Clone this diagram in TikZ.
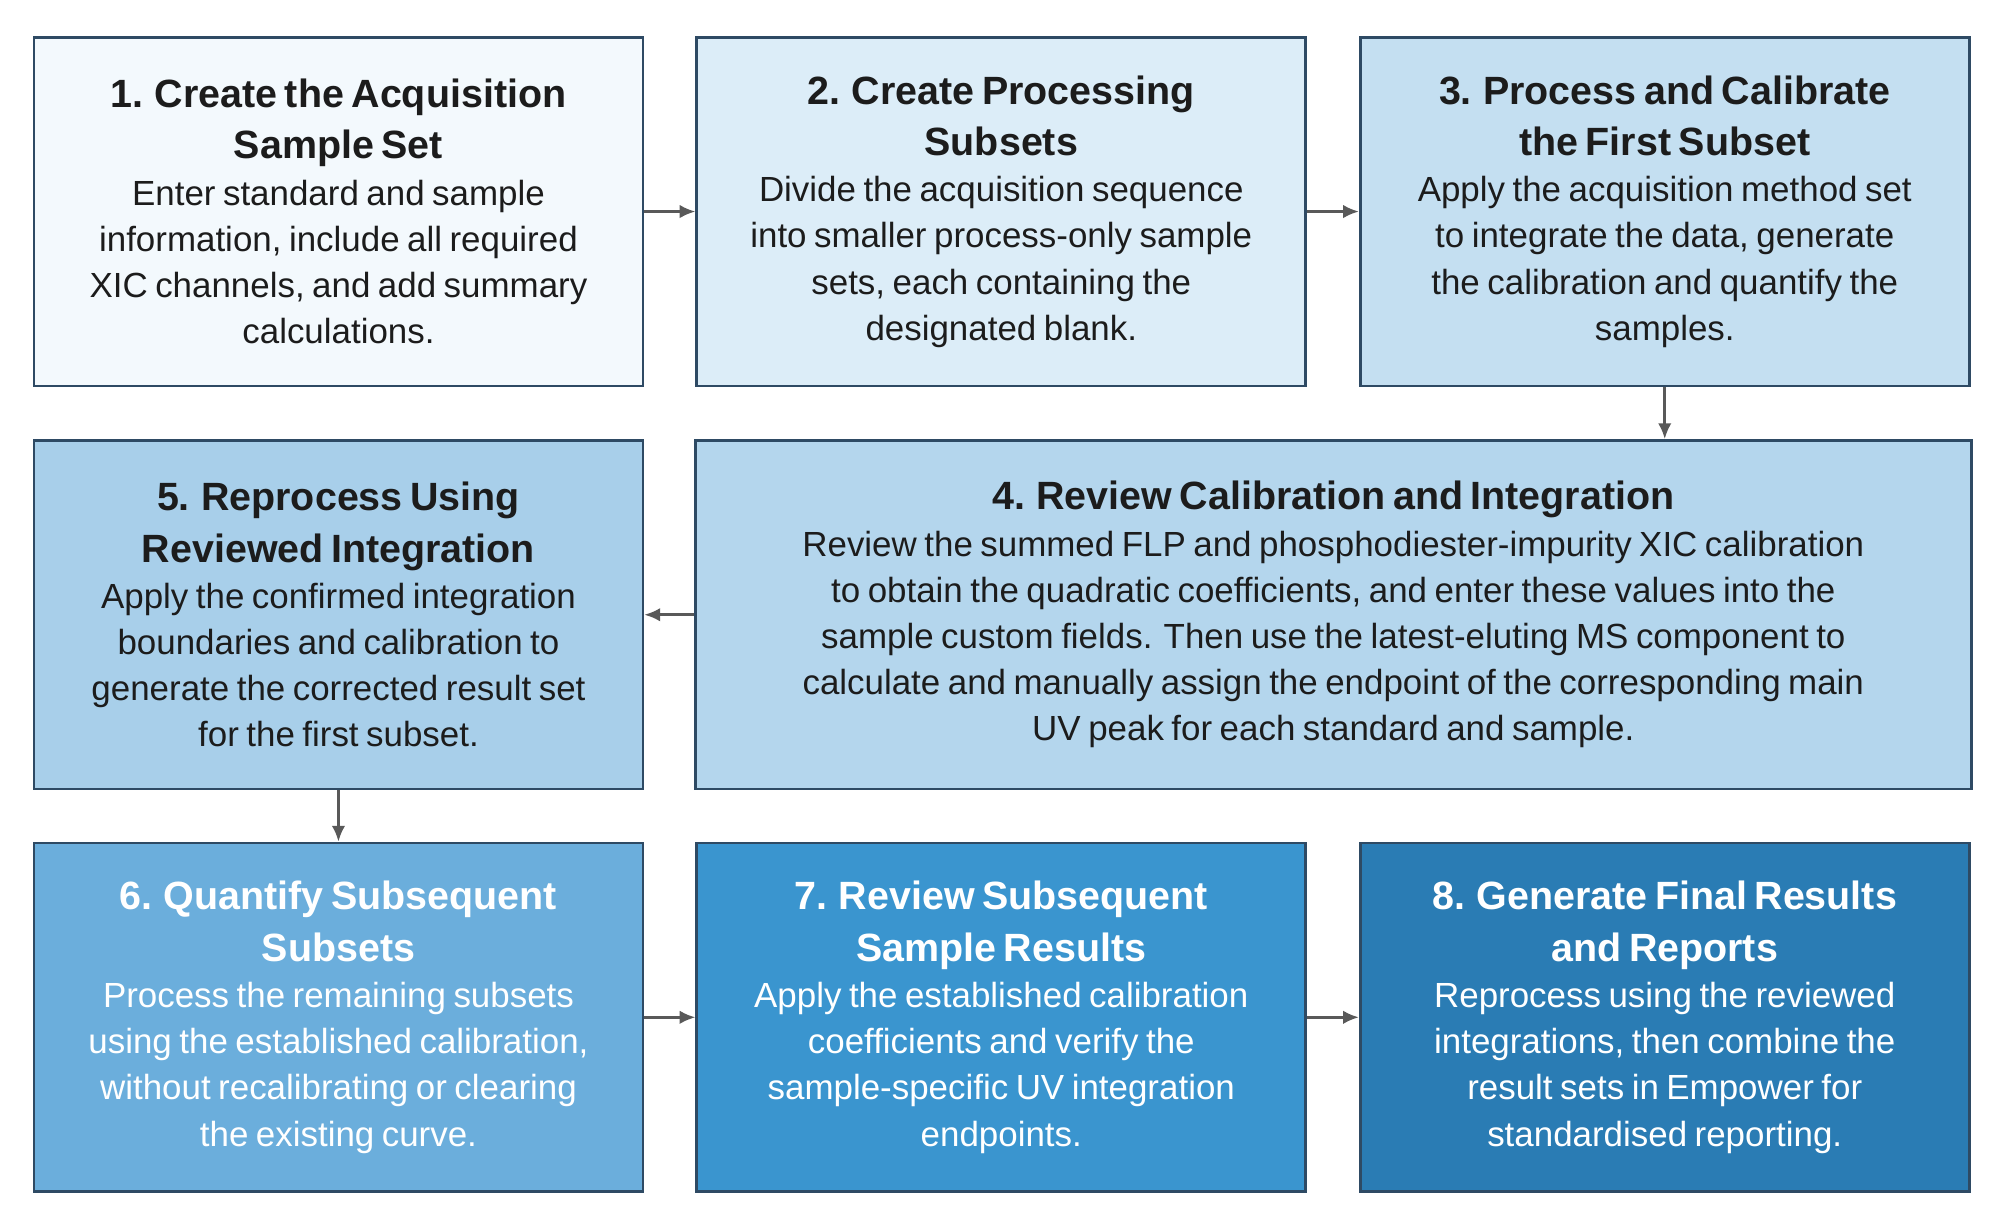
\documentclass[tikz,border=0pt]{standalone}
\usepackage{fontspec}
\setmainfont{Liberation Sans}
\usetikzlibrary{positioning,arrows.meta}
\definecolor{edge}{HTML}{2E4A64}
\definecolor{ink}{HTML}{1C1C1C}
\definecolor{cA}{HTML}{F3F9FD}
\definecolor{cB}{HTML}{DCEDF8}
\definecolor{cC}{HTML}{C4DFF1}
\definecolor{cD}{HTML}{B4D6ED}
\definecolor{cE}{HTML}{A8CFEA}
\definecolor{cF}{HTML}{6BAEDC}
\definecolor{cG}{HTML}{3A95CF}
\definecolor{cH}{HTML}{2A7CB4}
\newcommand\steptext[2]{{\fontsize{17.5}{22.8}\selectfont\bfseries #1\par}{\fontsize{15.5}{20.5}\selectfont #2\par}}
\tikzset{
  stepbox/.style={draw=edge, line width=1.2pt, minimum width=9.5cm, minimum height=5.44cm,
    text width=9.4cm, align=center, inner sep=0pt, text=ink},
  flow/.style={-{Latex[length=7pt,width=6pt]}, draw=black!65, line width=1.2pt}
}
\begin{document}
\begin{tikzpicture}
\useasboundingbox (0,0) rectangle (31.2,-19.14);
    % top row
    \node[stepbox, fill=cA] (s1) at (5.28,-3.3) {\steptext{1. Create the Acquisition\\Sample Set}{Enter standard and sample\\information, include all required\\XIC channels, and add summary\\calculations.}};
    \node[stepbox, fill=cB] (s2) at (15.62,-3.3) {\steptext{2. Create Processing\\Subsets}{Divide the acquisition sequence\\into smaller process-only sample\\sets, each containing the\\designated blank.}};
    \node[stepbox, fill=cC] (s3) at (25.97,-3.3) {\steptext{3. Process and Calibrate\\the First Subset}{Apply the acquisition method set\\to integrate the data, generate\\the calibration and quantify the\\samples.}};

    % middle row
    \node[stepbox, fill=cE] (s5) at (5.28,-9.59) {\steptext{5. Reprocess Using\\Reviewed Integration}{Apply the confirmed integration\\boundaries and calibration to\\generate the corrected result set\\for the first subset.}};
    \node[stepbox, fill=cD, minimum width=19.9cm, text width=19.8cm] (s4) at (20.8,-9.59) {\steptext{4. Review Calibration and Integration}{Review the summed FLP and phosphodiester-impurity XIC calibration\\to obtain the quadratic coefficients, and enter these values into the\\sample custom fields. Then use the latest-eluting MS component to\\calculate and manually assign the endpoint of the corresponding main\\UV peak for each standard and sample.}};

    % bottom row
    \node[stepbox, fill=cF, text=white] (s6) at (5.28,-15.87) {\steptext{6. Quantify Subsequent\\Subsets}{Process the remaining subsets\\using the established calibration,\\without recalibrating or clearing\\the existing curve.}};
    \node[stepbox, fill=cG, text=white] (s7) at (15.62,-15.87) {\steptext{7. Review Subsequent\\Sample Results}{Apply the established calibration\\coefficients and verify the\\sample-specific UV integration\\endpoints.}};
    \node[stepbox, fill=cH, text=white] (s8) at (25.97,-15.87) {\steptext{8. Generate Final Results\\and Reports}{Reprocess using the reviewed\\integrations, then combine the\\result sets in Empower for\\standardised reporting.}};

    % connectors
    \draw[flow] (s1) -- (s2);
    \draw[flow] (s2) -- (s3);
    \draw[flow] (s3.south) -- (s3.south |- s4.north);
    \draw[flow] (s4) -- (s5);
    \draw[flow] (s5) -- (s6);
    \draw[flow] (s6) -- (s7);
    \draw[flow] (s7) -- (s8);
\end{tikzpicture}
\end{document}
